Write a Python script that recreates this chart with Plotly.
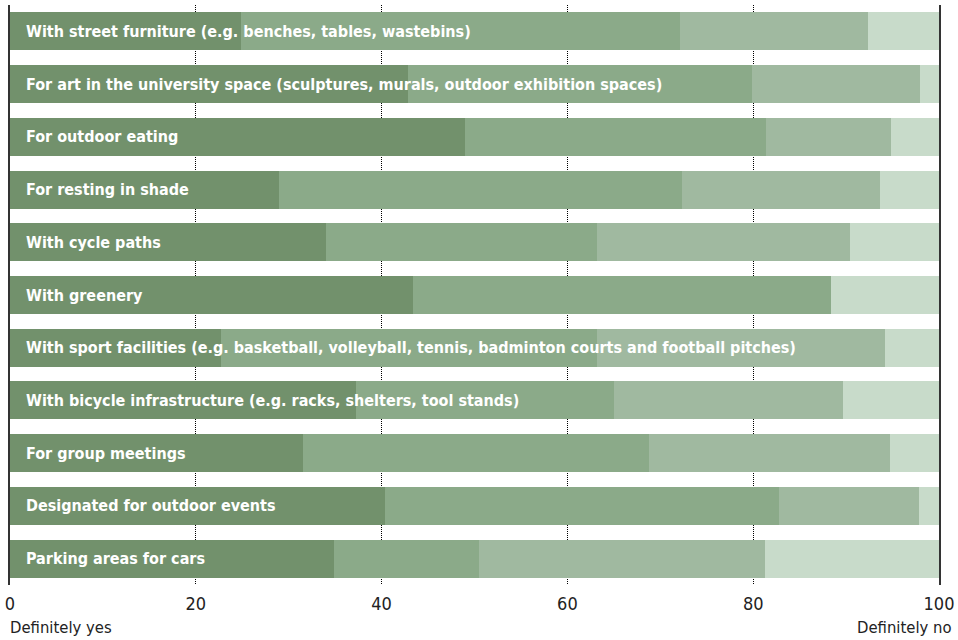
import plotly.graph_objects as go

categories = [
    "With street furniture (e.g. benches, tables, wastebins)",
    "For art in the university space (sculptures, murals, outdoor exhibition spaces)",
    "For outdoor eating",
    "For resting in shade",
    "With cycle paths",
    "With greenery",
    "With sport facilities (e.g. basketball, volleyball, tennis, badminton courts and football pitches)",
    "With bicycle infrastructure (e.g. racks, shelters, tool stands)",
    "For group meetings",
    "Designated for outdoor events",
    "Parking areas for cars",
]

seg1 = [24.9, 42.8, 49.0, 29.0, 34.0, 43.4, 22.7, 37.2, 31.5, 40.4, 34.9]
seg2 = [47.2, 37.1, 32.4, 43.3, 29.2, 45.0, 40.5, 27.8, 37.3, 42.4, 15.6]
seg3 = [20.3, 18.1, 13.4, 21.3, 27.2, 0.0, 31.0, 24.7, 25.9, 15.0, 30.8]
seg4 = [7.6, 2.0, 5.2, 6.4, 9.6, 11.6, 5.8, 10.3, 5.3, 2.2, 18.7]

series = [seg1, seg2, seg3, seg4]
colors = ["#72916c", "#8baa89", "#a0b9a0", "#c8dbca"]

tick_vals = [0, 20, 40, 60, 80, 100]
tick_text = ["0", "20", "40", "60", "80", "100"]

FONT = "Liberation Sans Narrow, Arial Narrow, DejaVu Sans Condensed, sans-serif"

fig = go.Figure()
for vals, col in zip(series, colors):
    fig.add_trace(go.Bar(
        y=categories, x=vals, orientation="h",
        marker=dict(color=col, line=dict(width=0)),
        hoverinfo="x+y", showlegend=False,
    ))

for c in categories:
    fig.add_annotation(
        x=0, y=c, xref="x", yref="y", text="<b>%s</b>" % c,
        showarrow=False, xanchor="left", xshift=14,
        font=dict(family=FONT, size=16, color="white"),
    )

fig.add_annotation(x=0, y=0, xref="x", yref="paper", text="Definitely yes",
                   showarrow=False, xanchor="left", yanchor="middle", yshift=-42, xshift=-2,
                   font=dict(family=FONT, size=16.5, color="#222"))
fig.add_annotation(x=100, y=0, xref="x", yref="paper", text="Definitely no",
                   showarrow=False, xanchor="right", yanchor="middle", yshift=-42, xshift=15,
                   font=dict(family=FONT, size=16.5, color="#222"))

fig.update_layout(
    barmode="stack",
    bargap=0.28,
    width=958, height=640,
    margin=dict(l=10, r=19, t=5, b=55),
    plot_bgcolor="white", paper_bgcolor="white",
    font=dict(family=FONT, color="#222"),
    xaxis=dict(
        range=[0, 100], tickvals=tick_vals, ticktext=tick_text,
        showgrid=True, gridcolor="#000", griddash="1px,1px", gridwidth=1,
        zeroline=False, showline=False,
        ticks="outside", ticklen=2, tickcolor="rgba(0,0,0,0)",
        tickfont=dict(family=FONT, size=18, color="#222"),
        layer="above traces", fixedrange=True,
    ),
    yaxis=dict(
        autorange="reversed", showticklabels=False, showgrid=False,
        showline=True, mirror=True, linecolor="#333", linewidth=2,
        zeroline=False, fixedrange=True,
    ),
)

fig.write_html(
    "out.html",
    config={"displayModeBar": False},
    post_script="document.body.style.margin='0';document.body.style.padding='0';",
)
